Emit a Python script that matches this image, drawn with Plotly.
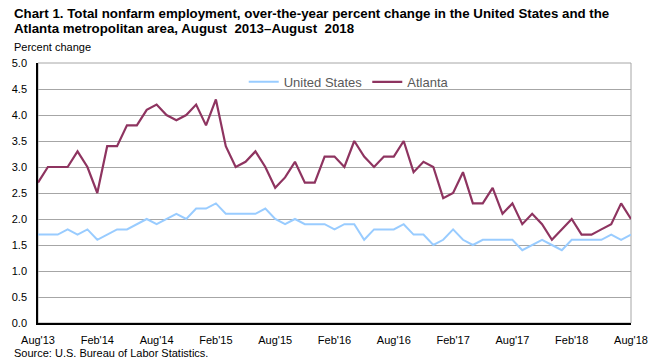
import plotly.graph_objects as go

months = [f"{m} {y}" for y, m in
          [(2013, mm) for mm in ["Aug", "Sep", "Oct", "Nov", "Dec"]] +
          [(yy, mm) for yy in range(2014, 2018) for mm in ["Jan", "Feb", "Mar", "Apr", "May", "Jun", "Jul", "Aug", "Sep", "Oct", "Nov", "Dec"]] +
          [(2018, mm) for mm in ["Jan", "Feb", "Mar", "Apr", "May", "Jun", "Jul", "Aug"]]]

united_states = [1.7, 1.7, 1.7, 1.8, 1.7, 1.8, 1.6, 1.7, 1.8, 1.8, 1.9, 2.0, 1.9, 2.0, 2.1, 2.0,
                 2.2, 2.2, 2.3, 2.1, 2.1, 2.1, 2.1, 2.2, 2.0, 1.9, 2.0, 1.9, 1.9, 1.9, 1.8, 1.9,
                 1.9, 1.6, 1.8, 1.8, 1.8, 1.9, 1.7, 1.7, 1.5, 1.6, 1.8, 1.6, 1.5, 1.6, 1.6, 1.6,
                 1.6, 1.4, 1.5, 1.6, 1.5, 1.4, 1.6, 1.6, 1.6, 1.6, 1.7, 1.6, 1.7]
atlanta = [2.7, 3.0, 3.0, 3.0, 3.3, 3.0, 2.5, 3.4, 3.4, 3.8, 3.8, 4.1, 4.2, 4.0, 3.9, 4.0,
           4.2, 3.8, 4.3, 3.4, 3.0, 3.1, 3.3, 3.0, 2.6, 2.8, 3.1, 2.7, 2.7, 3.2, 3.2, 3.0,
           3.5, 3.2, 3.0, 3.2, 3.2, 3.5, 2.9, 3.1, 3.0, 2.4, 2.5, 2.9, 2.3, 2.3, 2.6, 2.1,
           2.3, 1.9, 2.1, 1.9, 1.6, 1.8, 2.0, 1.7, 1.7, 1.8, 1.9, 2.3, 2.0]

tick_months = months[::6]
tick_labels = ["Aug'13", "Feb'14", "Aug'14", "Feb'15", "Aug'15", "Feb'16",
               "Aug'16", "Feb'17", "Aug'17", "Feb'18", "Aug'18"]
y_ticks = [i * 0.5 for i in range(11)]

title_lines = ["Chart 1. Total nonfarm employment, over-the-year percent change in the United States and the",
               "Atlanta metropolitan area, August  2013–August  2018"]

FONT = "Liberation Sans, Arial, sans-serif"
PW, PH = 602.5, 260.6
TOP = 62.7


def py(px):
    return 1 + (TOP - px) / PH


fig = go.Figure()
fig.add_trace(go.Scatter(x=months, y=united_states, name="United States", mode="lines",
                         line=dict(color="#99ccff", width=2)))
fig.add_trace(go.Scatter(x=months, y=atlanta, name="Atlanta", mode="lines",
                         line=dict(color="#8e3460", width=2.2)))

annotations = []
for line, yc in zip(title_lines, [13.5, 28]):
    annotations.append(dict(text=f"<b>{line}</b>", xref="paper", yref="paper",
                            x=-26.5 / PW, y=py(yc), xanchor="left", yanchor="middle",
                            showarrow=False, font=dict(size=13.3, color="black")))
annotations.append(dict(text="Percent change", xref="paper", yref="paper",
                        x=-26 / PW, y=py(39), xanchor="left", yanchor="top",
                        showarrow=False, font=dict(size=11, color="black")))
annotations.append(dict(text="Source: U.S. Bureau of Labor Statistics.", xref="paper", yref="paper",
                        x=-26 / PW, y=-(345 - 323.3) / PH, xanchor="left", yanchor="top",
                        showarrow=False, font=dict(size=11, color="black")))

fig.update_layout(
    width=660, height=361,
    margin=dict(l=33.5, r=24, t=TOP, b=37.7),
    paper_bgcolor="white", plot_bgcolor="white",
    font=dict(family=FONT, size=11, color="#000000"),
    showlegend=True,
    legend=dict(orientation="h", x=0.524, y=0.985, xanchor="center", yanchor="top",
                font=dict(size=13, color="#595959"), itemwidth=30,
                bgcolor="rgba(0,0,0,0)"),
    xaxis=dict(type="category", range=[0, 60], tickvals=tick_months, ticktext=tick_labels,
               showgrid=False, showline=True, linecolor="black", linewidth=1.5,
               ticks="", ticklabelstandoff=6, tickfont=dict(size=11), zeroline=False),
    yaxis=dict(range=[0, 5], tickvals=y_ticks, tickformat=".1f",
               showgrid=True, gridcolor="#a6a6a6", gridwidth=1,
               showline=True, linecolor="black", linewidth=1.5,
               ticks="", ticklabelstandoff=7, tickfont=dict(size=11), zeroline=False),
    shapes=[dict(type="rect", xref="paper", yref="paper", x0=0, x1=1, y0=0, y1=1,
                 line=dict(color="#a6a6a6", width=1), layer="below")],
    annotations=annotations,
)

fig.write_html("out.html", config={"displayModeBar": False},
               post_script="document.body.style.margin='0';")
